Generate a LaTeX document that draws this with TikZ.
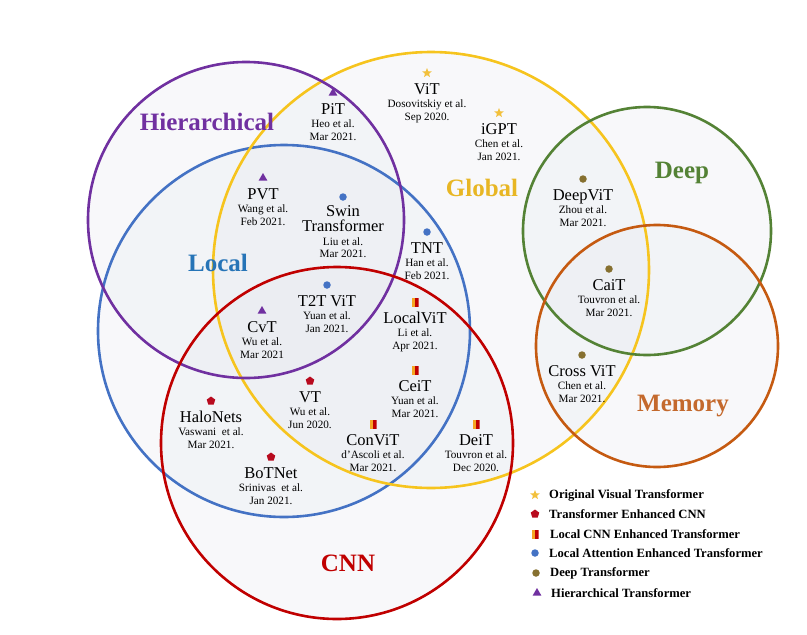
\documentclass[tikz,border=0pt]{standalone}
\usepackage{fontspec}
\setmainfont{Liberation Serif}
\usetikzlibrary{shapes.geometric,calc}
\definecolor{cpur}{RGB}{112,48,160}
\definecolor{cyel}{RGB}{246,196,30}
\definecolor{cblu}{RGB}{68,114,196}
\definecolor{cred}{RGB}{192,0,0}
\definecolor{cgrn}{RGB}{84,130,53}
\definecolor{corg}{RGB}{197,90,17}
\definecolor{lyel}{RGB}{232,182,36}
\definecolor{lblu}{RGB}{38,116,183}
\definecolor{lorg}{RGB}{196,105,45}
\definecolor{mstar}{RGB}{242,192,60}
\definecolor{mpent}{RGB}{184,10,30}
\definecolor{mdeep}{RGB}{134,112,48}
\definecolor{morg}{RGB}{245,166,35}
\definecolor{bgc}{RGB}{226,229,236}
\tikzset{
  ring/.style={line width=2.6pt},
  ringfill/.style={fill=bgc, fill opacity=0.25},
  biglbl/.style={font=\fontsize{25}{25}\selectfont\bfseries, inner sep=0pt},
  nm/.style={font=\fontsize{16.5}{14}\selectfont, inner sep=0pt, anchor=base, align=center},
  au/.style={font=\fontsize{11.2}{13}\selectfont, inner sep=0pt, anchor=base},
  lg/.style={font=\fontsize{12.6}{14}\selectfont\bfseries, inner sep=0pt, anchor=west},
  mstarm/.style={star, star points=5, star point ratio=2.3, fill=mstar, draw=none, minimum size=10pt, inner sep=0pt},
  mpentm/.style={regular polygon, regular polygon sides=5, fill=mpent, draw=none, minimum size=9pt, inner sep=0pt},
  mlocm/.style={rectangle, draw=none, minimum width=7pt, minimum height=9pt, inner sep=0pt,
     path picture={\fill[morg] (path picture bounding box.south west) rectangle (path picture bounding box.north);
                   \fill[cred] (path picture bounding box.south) rectangle (path picture bounding box.north east);}},
  mattm/.style={circle, fill=cblu, draw=none, minimum size=7.5pt, inner sep=0pt},
  mdeepm/.style={circle, fill=mdeep, draw=none, minimum size=7.5pt, inner sep=0pt},
  mhierm/.style={regular polygon, regular polygon sides=3, fill=cpur, draw=none, minimum size=10pt, inner sep=0pt},
}
\newcommand{\vtitem}[7]{%
  \node[#2] (#1m) at (#3,#4) {};
  \node[nm] (#1n) at ($(#1m)+(0,21)$) {#5};
  \node[au] (#1a) at ($(#1m)+(0,34.5)$) {#6};
  \node[au] (#1d) at ($(#1m)+(0,47)$) {#7};
}
\begin{document}
\begin{tikzpicture}[x=1pt,y=-1pt]
\useasboundingbox (0,0) rectangle (807,635);
% fills
\path[ringfill] (246,220) circle (158pt);
\path[ringfill] (431,270) circle (218pt);
\path[ringfill] (284,331) circle (186pt);
\path[ringfill] (337,443) circle (176pt);
\path[ringfill] (647,231) circle (124pt);
\path[ringfill] (657,346) circle (121pt);
% rings
\draw[ring, cblu] (284,331) circle (186pt);
\draw[ring, cyel] (431,270) circle (218pt);
\draw[ring, cpur] (246,220) circle (158pt);
\draw[ring, cred] (337,443) circle (176pt);
\draw[ring, cgrn] (647,231) circle (124pt);
\draw[ring, corg] (657,346) circle (121pt);
% set labels
\node[biglbl, text=cpur] (lhier) at (207,122) {Hierarchical};
\node[biglbl, text=lyel] (lglob) at (482,188) {Global};
\node[biglbl, text=lblu] (lloc) at (218,263) {Local};
\node[biglbl, text=cgrn] (ldeep) at (682,173) {Deep};
\node[biglbl, text=lorg] (lmem) at (683,406) {Memory};
\node[biglbl, text=cred] (lcnn) at (348,563) {CNN};
% items
\vtitem{pit}{mhierm}{333}{93}{PiT}{Heo et al.}{Mar 2021.}
\vtitem{pvt}{mhierm}{263}{178}{PVT}{Wang et al.}{Feb 2021.}
\vtitem{vit}{mstarm}{427}{73}{ViT}{Dosovitskiy et al.}{Sep 2020.}
\vtitem{igpt}{mstarm}{499}{113}{iGPT}{Chen et al.}{Jan 2021.}
\vtitem{deepvit}{mdeepm}{583}{179}{DeepViT}{Zhou et al.}{Mar 2021.}
\vtitem{tnt}{mattm}{427}{232}{TNT}{Han et al.}{Feb 2021.}
\vtitem{cait}{mdeepm}{609}{269}{CaiT}{Touvron et al.}{Mar 2021.}
\vtitem{cross}{mdeepm}{582}{355}{Cross ViT}{Chen et al.}{Mar 2021.}
\vtitem{t2t}{mattm}{327}{285}{T2T ViT}{Yuan et al.}{Jan 2021.}
\vtitem{cvt}{mhierm}{262}{311}{CvT}{Wu et al.}{Mar 2021}
\vtitem{vt}{mpentm}{310}{381}{VT}{Wu et al.}{Jun 2020.}
\vtitem{halo}{mpentm}{211}{401}{HaloNets}{Vaswani\ \ et al.}{Mar 2021.}
\vtitem{localvit}{mlocm}{415}{302}{LocalViT}{Li et al.}{Apr 2021.}
\vtitem{ceit}{mlocm}{415}{370}{CeiT}{Yuan et al.}{Mar 2021.}
\vtitem{convit}{mlocm}{373}{424}{ConViT}{d'Ascoli et al.}{Mar 2021.}
\vtitem{deit}{mlocm}{476}{424}{DeiT}{Touvron et al.}{Dec 2020.}
\vtitem{botnet}{mpentm}{271}{457}{BoTNet}{Srinivas\ \ et al.}{Jan 2021.}
% Swin (two-line name)
\node[mattm] (swinm) at (343,197) {};
\node[nm] (swinn1) at ($(swinm)+(0,19)$) {Swin};
\node[nm] (swinn2) at ($(swinm)+(0,34)$) {Transformer};
\node[au] (swina) at ($(swinm)+(0,48)$) {Liu et al.};
\node[au] (swind) at ($(swinm)+(0,60)$) {Mar 2021.};
% legend
\node[mstarm] (k1) at (535,495) {};
\node[lg] (t1) at (549,495) {Original Visual Transformer};
\node[mpentm] (k2) at (535,514) {};
\node[lg] (t2) at (549,514) {Transformer Enhanced CNN};
\node[mlocm] (k3) at (535,534) {};
\node[lg] (t3) at (550,534) {Local CNN Enhanced Transformer};
\node[mattm] (k4) at (535,553) {};
\node[lg] (t4) at (549,553) {Local Attention Enhanced Transformer};
\node[mdeepm] (k5) at (536,573) {};
\node[lg] (t5) at (550,573) {Deep Transformer};
\node[mhierm] (k6) at (537,593) {};
\node[lg] (t6) at (551,593) {Hierarchical Transformer};
\end{tikzpicture}
\end{document}
